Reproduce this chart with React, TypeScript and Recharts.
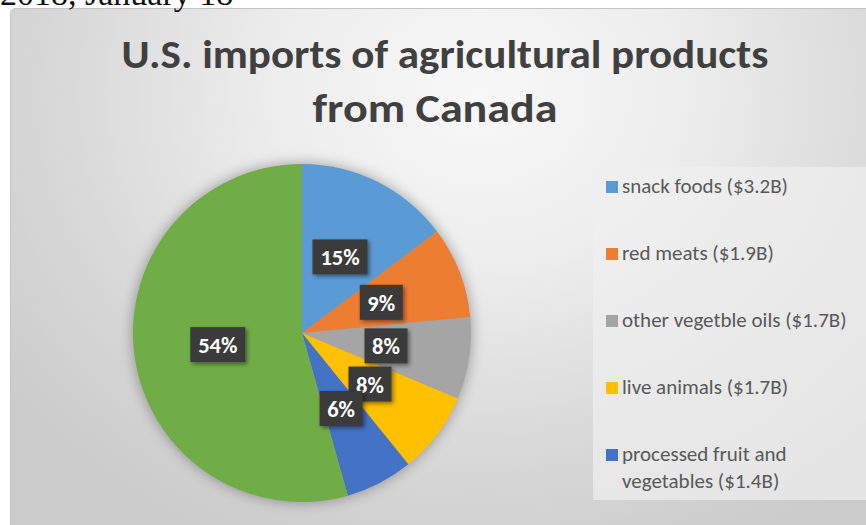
import React from 'react';
import { PieChart, Pie, Cell, Legend } from 'recharts';

// U.S. agricultural imports from Canada, billions of dollars
const categories = [
  'snack foods',
  'red meats',
  'other vegetble oils',
  'live animals',
  'processed fruit and vegetables',
  'all other products',
];
const valuesB = [3.2, 1.9, 1.7, 1.7, 1.4, 11.8];
const sliceColors = ['#5B9BD5', '#ED7D31', '#A5A5A5', '#FFC000', '#4472C4', '#70AD47'];
const legendCount = 5;
const titleLines = ['U.S. imports of agricultural products', 'from Canada'];
const dateLine = '2018, January 18';

const data = categories.map((name, i) => ({ name, value: valuesB[i] }));

const FONT = 'Carlito, Calibri, Lato, sans-serif';
const RADIAN = Math.PI / 180;

function renderLabel(props: any) {
  const { cx, cy, midAngle, outerRadius, percent } = props;
  const r = outerRadius * 0.503;
  const x = cx + r * Math.cos(-midAngle * RADIAN);
  const y = cy + r * Math.sin(-midAngle * RADIAN);
  const text = `${Math.round(percent * 100)}%`;
  const w = text.length * 12 + 19;
  const h = 35;
  return (
    <g>
      <rect x={x - w / 2} y={y - h / 2} width={w} height={h} fill="#3b3b3b" filter="url(#labelShadow)" />
      <text
        x={x}
        y={y + 1}
        fill="#ffffff"
        fontSize={22.5}
        fontWeight={700}
        fontFamily={FONT}
        textAnchor="middle"
        dominantBaseline="central"
      >
        {text}
      </text>
    </g>
  );
}

function wrapWords(text: string, maxChars: number): string[] {
  const words = text.split(' ');
  const lines: string[] = [];
  let cur = '';
  for (const w of words) {
    const next = cur ? `${cur} ${w}` : w;
    if (next.length > maxChars && cur) {
      lines.push(cur);
      cur = w;
    } else {
      cur = next;
    }
  }
  if (cur) lines.push(cur);
  return lines;
}

function renderLegend(props: any) {
  // keep the legend in slice order, listing the named categories only
  const payload = [...(props.payload || [])]
    .sort((a: any, b: any) => categories.indexOf(a.value) - categories.indexOf(b.value))
    .slice(0, legendCount);
  return (
    <svg width={290} height={333} style={{ display: 'block' }}>
      <rect x={0} y={0} width={290} height={333} fill="#f0f0f0" fillOpacity={0.7} />
      {payload.map((entry: any, i: number) => {
        const idx = categories.indexOf(entry.value);
        const label = `${entry.value} ($${valuesB[idx]}B)`;
        const lines = wrapWords(label, 28);
        const base = 26 + i * 67;
        return (
          <g key={entry.value}>
            <rect x={13} y={base - 12} width={12} height={12} fill={entry.color} />
            <text fontFamily={FONT} fontSize={21} fill="#595959">
              {lines.map((ln, j) => (
                <tspan key={j} x={29} y={base + j * 27}>
                  {ln}
                </tspan>
              ))}
            </text>
          </g>
        );
      })}
    </svg>
  );
}

export default function App() {
  return (
    <div
      style={{
        position: 'absolute',
        left: 0,
        top: 0,
        width: 866,
        height: 525,
        overflow: 'hidden',
        background: '#ffffff',
      }}
    >
      <style>{`.imports-frame .recharts-pie { filter: drop-shadow(0 0 7px rgba(0,0,0,0.35)); }`}</style>
      <div
        className="imports-frame"
        style={{
          position: 'absolute',
          left: 10,
          top: 8,
          width: 870,
          height: 530,
          borderRadius: '6px 0 0 0',
          background:
            'radial-gradient(ellipse 68% 95% at 54% 16%, #f8f8f8 0%, #ededed 35%, #dadada 68%, #cbcbcb 100%)',
          boxShadow: 'inset 0 0 0 1px #c4c4c4',
        }}
      >
        <PieChart width={870} height={530} margin={{ top: 0, right: 0, bottom: 0, left: 0 }}>
          <Pie
            data={data}
            dataKey="value"
            nameKey="name"
            cx={292}
            cy={325}
            outerRadius={169}
            startAngle={90}
            endAngle={-270}
            stroke="none"
            label={renderLabel}
            labelLine={false}
            isAnimationActive={false}
          >
            {data.map((d, i) => (
              <Cell key={d.name} fill={sliceColors[i]} />
            ))}
          </Pie>
          <Legend
            layout="vertical"
            align="right"
            verticalAlign="top"
            content={renderLegend}
            wrapperStyle={{ position: 'absolute', left: 583, top: 159, width: 290, height: 333 }}
          />
        </PieChart>
      </div>
      <svg
        width={866}
        height={525}
        style={{ position: 'absolute', left: 0, top: 0, pointerEvents: 'none' }}
      >
        <defs>
          <filter id="labelShadow" x="-30%" y="-30%" width="160%" height="160%">
            <feDropShadow dx={2} dy={2} stdDeviation={2} floodColor="#000" floodOpacity={0.45} />
          </filter>
        </defs>
        <text x={0} y={5} fontFamily="'Liberation Serif', serif" fontSize={34} fill="#111">
          {dateLine}
        </text>
        <text
          x={445}
          y={68}
          textAnchor="middle"
          fontFamily={FONT}
          fontWeight={700}
          fontSize={40}
          fill="#404040"
          textLength={647}
          lengthAdjust="spacingAndGlyphs"
        >
          {titleLines[0]}
        </text>
        <text
          x={435}
          y={122}
          textAnchor="middle"
          fontFamily={FONT}
          fontWeight={700}
          fontSize={40}
          fill="#404040"
          textLength={245}
          lengthAdjust="spacingAndGlyphs"
        >
          {titleLines[1]}
        </text>
      </svg>
    </div>
  );
}
